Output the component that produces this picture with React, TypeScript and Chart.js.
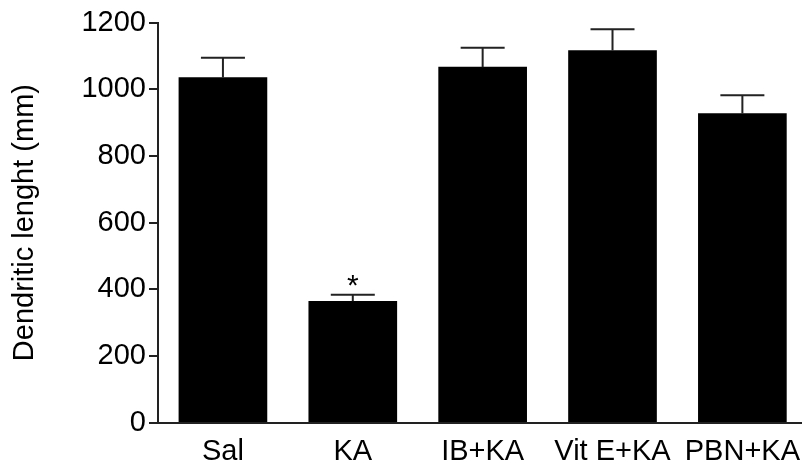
import React, { useEffect, useRef } from "react";
import { Chart, registerables } from "chart.js";

Chart.register(...registerables);

const categories = ["Sal", "KA", "IB+KA", "Vit E+KA", "PBN+KA"];
const means = [1035, 364, 1066, 1116, 927];
const sem = [59, 20, 58, 64, 55];
const sigMarks = ["", "*", "", "", ""];
const yTicks = [0, 200, 400, 600, 800, 1000, 1200];
const yTitle = "Dendritic lenght (mm)";

const FONT = "'Liberation Sans', Arial, Helvetica, sans-serif";
const AXIS_COLOR = "#222";

const errorBarPlugin = {
  id: "errorBars",
  afterDatasetsDraw(chart: any) {
    const { ctx, scales } = chart;
    const meta = chart.getDatasetMeta(0);
    ctx.save();
    meta.data.forEach((bar: any, i: number) => {
      const x = bar.x;
      const yTop = scales.y.getPixelForValue(means[i] + sem[i]);
      const yBar = scales.y.getPixelForValue(means[i]);
      ctx.strokeStyle = AXIS_COLOR;
      ctx.lineWidth = 2;
      ctx.beginPath();
      ctx.moveTo(x, yBar);
      ctx.lineTo(x, yTop);
      ctx.moveTo(x - 22, yTop);
      ctx.lineTo(x + 22, yTop);
      ctx.stroke();
      if (sigMarks[i]) {
        ctx.fillStyle = "#000";
        ctx.font = `30px ${FONT}`;
        ctx.textAlign = "center";
        ctx.textBaseline = "alphabetic";
        ctx.fillText(sigMarks[i], x, yTop);
      }
    });
    ctx.restore();
  },
};

export default function App() {
  const ref = useRef<HTMLCanvasElement>(null);
  useEffect(() => {
    if (!ref.current) return;
    const chart = new Chart(ref.current, {
      type: "bar",
      data: {
        datasets: [
          {
            data: means.map((v, i) => ({ x: i, y: v })),
            backgroundColor: "#000",
            borderWidth: 0,
            barThickness: 88,
          },
        ],
      },
      options: {
        responsive: false,
        animation: false,
        devicePixelRatio: 1,
        layout: { padding: { top: 22.5, right: 0, bottom: 0, left: 0 } },
        plugins: { legend: { display: false }, tooltip: { enabled: false } },
        scales: {
          x: {
            type: "linear",
            offset: false,
            min: -0.5,
            max: 4.454,
            grid: { display: false, offset: false },
            border: { display: true, color: AXIS_COLOR, width: 2 },
            afterBuildTicks: (axis: any) => {
              axis.ticks = categories.map((_, i) => ({ value: i }));
            },
            afterFit: (axis: any) => {
              axis.height = 45.3;
            },
            ticks: {
              autoSkip: false,
              maxRotation: 0,
              padding: 4,
              color: "#000",
              font: { family: FONT, size: 29 },
              callback: (v: any) => categories[Number(v)] ?? "",
            },
          },
          y: {
            type: "linear",
            min: 0,
            max: 1200,
            afterBuildTicks: (axis: any) => {
              axis.ticks = yTicks.map((v) => ({ value: v }));
            },
            afterFit: (axis: any) => {
              axis.width = 158;
            },
            grid: {
              display: true,
              drawOnChartArea: false,
              drawTicks: true,
              tickLength: 9,
              color: AXIS_COLOR,
              lineWidth: 2,
            },
            border: { display: true, color: AXIS_COLOR, width: 2 },
            ticks: {
              padding: 3,
              color: "#000",
              font: { family: FONT, size: 29 },
              callback: (v: any) => String(v),
            },
            title: {
              display: true,
              text: yTitle,
              color: "#000",
              font: { family: FONT, size: 29, weight: "normal" },
              padding: { top: 8, bottom: 0 },
            },
          },
        },
      },
      plugins: [errorBarPlugin],
    } as any);
    return () => chart.destroy();
  }, []);
  return (
    <div style={{ position: "fixed", left: 0, top: 0, width: 804, height: 468, background: "#fff" }}>
      <canvas ref={ref} width={804} height={468} style={{ display: "block" }} />
    </div>
  );
}
